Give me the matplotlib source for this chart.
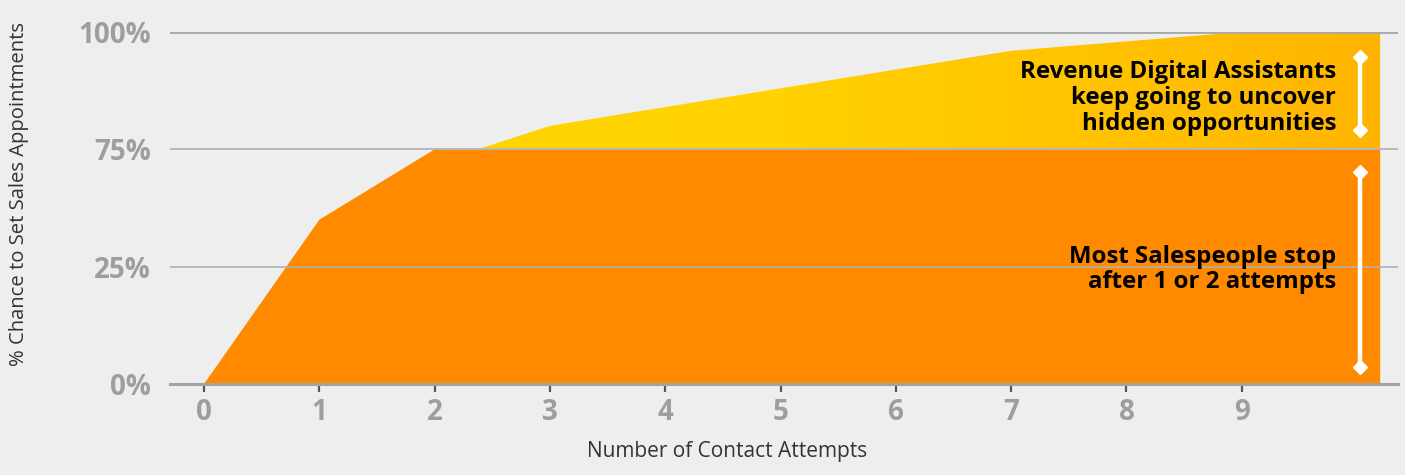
import matplotlib
matplotlib.use('Agg')
import matplotlib.pyplot as plt
import numpy as np
from matplotlib.colors import LinearSegmentedColormap

# contact attempts (last point runs the area just past 10)
attempts = [0, 1, 2, 3, 4, 5, 6, 7, 8, 9, 10.2]
salespeople = [0, 45, 75, 75, 75, 75, 75, 75, 75, 75, 75]
assistants = [0, 40, 69, 80, 84, 88, 92, 96, 98, 100, 100]

ytick_vals = [0, 25, 75, 100]
ytick_labels = ['0%', '25%', '75%', '100%']
xtick_vals = list(range(10))

bg = '#eeeeee'
orange = '#ff8a00'
text_gray = '#9e9e9e'

# y axis: the labelled percentages sit evenly spaced
grid_pos = [0, 1, 2, 3]
def fwd(v):
  return np.interp(v, ytick_vals, grid_pos)
def inv(p):
  return np.interp(p, grid_pos, ytick_vals)

fig = plt.figure(figsize=(14.05, 4.75), dpi=100, facecolor=bg)
ax = fig.add_axes([170/1405, 91/475, 1228/1405, 352/475], facecolor=bg)
ax.set_yscale('function', functions=(fwd, inv))

# yellow area with a left-to-right gradient, clipped to the series outline
yellow_poly = ax.fill_between(attempts, assistants, 0, facecolor='none',
                              edgecolor='none')
grad = LinearSegmentedColormap.from_list('yel', ['#ffd800', '#ffd200', '#ffb400'])
im = ax.imshow(np.linspace(0, 1, 256).reshape(1, -1), cmap=grad, aspect='auto',
               extent=[0, 1, 0, 1], transform=ax.transAxes, zorder=1.5)
im.set_clip_path(yellow_poly.get_paths()[0], transform=ax.transData)

ax.fill_between(attempts, salespeople, 0, facecolor=orange, edgecolor='none',
                zorder=2)

# "10" label tucked behind the fill
ax.text(10, 0.005, '10', ha='center', va='bottom', fontsize=20, fontweight='bold',
        color=text_gray, family='Open Sans', zorder=1,
        transform=ax.get_xaxis_transform())

ax.set_xlim(-0.295, 10.355)
ax.set_ylim(0, 100)

# grid lines on top of the areas
ax.axhline(100, color='#a9a9a9', lw=2, zorder=3)
ax.axhline(75, color='#b8b8b8', lw=1.4, zorder=3)
ax.axhline(25, color='#b0b0b0', lw=1.2, zorder=3)

for side in ['top', 'right', 'left']:
  ax.spines[side].set_visible(False)
ax.spines['bottom'].set_color('#a3a3a3')
ax.spines['bottom'].set_linewidth(2.2)
ax.spines['bottom'].set_zorder(3)

ax.set_xticks(xtick_vals)
ax.set_xticklabels([str(x) for x in xtick_vals])
ax.set_yticks(ytick_vals)
ax.set_yticklabels(ytick_labels)
ax.tick_params(axis='x', length=6, width=1.6, color='#5d5555', pad=4,
               labelsize=20, labelcolor=text_gray)
ax.tick_params(axis='y', length=0, pad=14, labelsize=20, labelcolor=text_gray)
for lab in ax.get_xticklabels() + ax.get_yticklabels():
  lab.set_fontfamily('Open Sans')
  lab.set_fontweight('bold')

fig.text(19/1405, 1 - 194/475, '% Chance to Set Sales Appointments',
         rotation=90, ha='center', va='center', fontsize=14.6,
         family='Open Sans', color='#333333')
fig.text(727/1405, 1 - 452/475, 'Number of Contact Attempts',
         ha='center', va='center', fontsize=15, family='Open Sans',
         color='#333333')

# callouts: x in data units, y as a fraction of the axes
ax.text(9.82, 0.8125, 'Revenue Digital Assistants\nkeep going to uncover\nhidden opportunities',
        transform=ax.get_xaxis_transform(), ha='right', va='center',
        multialignment='right', fontsize=17.3, fontweight='bold',
        family='Open Sans', color='black', linespacing=1.1, zorder=5)
ax.text(9.82, 0.325, 'Most Salespeople stop\nafter 1 or 2 attempts',
        transform=ax.get_xaxis_transform(), ha='right', va='center',
        multialignment='right', fontsize=17.3, fontweight='bold',
        family='Open Sans', color='black', linespacing=1.1, zorder=5)

for y0, y1 in [(0.7216, 0.929), (0.048, 0.602)]:
  ax.plot([0.969, 0.969], [y0, y1], color='white', lw=3.2,
          transform=ax.transAxes, zorder=5, solid_capstyle='butt')
  ax.plot([0.969, 0.969], [y0, y1], color='white', lw=0, marker='D',
          markersize=7, transform=ax.transAxes, zorder=5)

fig.savefig('out.png', dpi=100, facecolor=bg)
